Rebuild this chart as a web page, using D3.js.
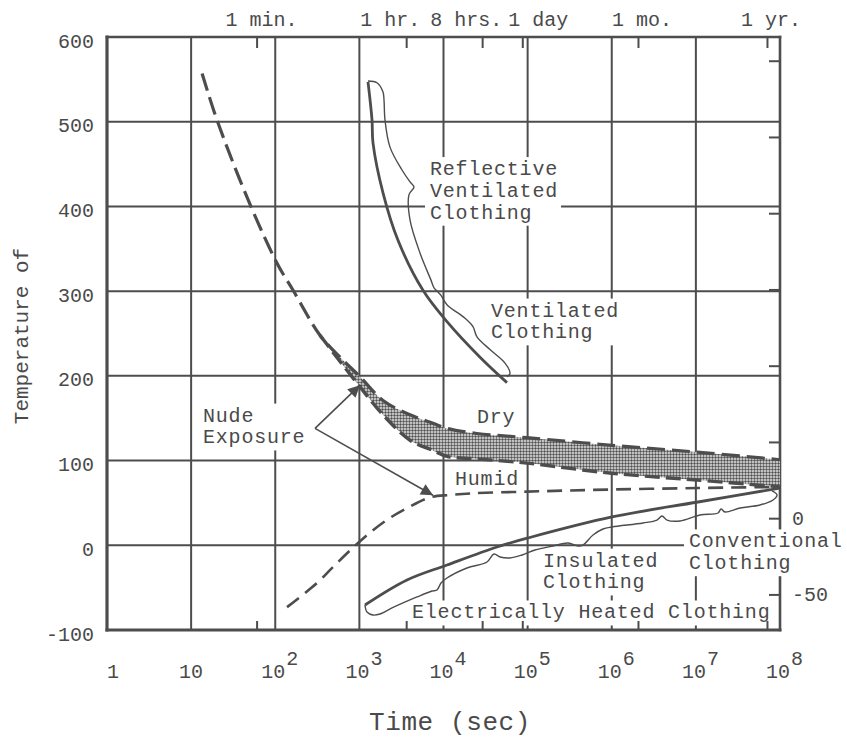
<!DOCTYPE html>
<html>
<head>
  <meta charset="UTF-8">
  <title>Tolerance time vs temperature</title>
  <script src="https://cdn.jsdelivr.net/npm/d3@7"></script>
  <style>
    body { margin: 0; background: #fff; }
    text { font-family: "Liberation Mono", "DejaVu Sans Mono", monospace; fill: #4a4a4a; }
  </style>
</head>
<body>
  <svg width="847" height="738"></svg>

  <script>
    // Nude exposure, hot side: single dashed curve before it splits into the band
    const leadTime = [13.5, 20.3, 47.5, 105, 163, 340];
    const leadTemp = [557, 502, 408, 333, 301, 248];

    // Shaded band, dry (upper) and humid (lower) limits
    const bandTime  = [340, 589, 1017, 1909, 4000, 7500, 11000, 25000, 98300, 1.0e6, 1.03e7, 1e8];
    const bandDry   = [248, 222, 199, 171, 154, 144, 138, 132, 127, 118, 110, 101];
    const bandHumid = [248, 217, 187, 154, 124, 112, 105, 102, 97, 85, 77, 69];

    // Nude exposure, cold side (rising dashed curve)
    const coldTime = [138, 314, 486, 1135, 2113, 3656, 6918, 11940, 22400, 98300, 551000, 1.03e7, 1e8];
    const coldTemp = [-73, -44.5, -25.6, 9, 29.8, 43.7, 56.6, 59.4, 61.4, 63.3, 65.3, 67.6, 68.8];

    // Ventilated clothing (solid) and its brace outline
    const ventTime = [1266, 1413, 1452, 1909, 2878, 5705, 11000, 27160, 56860];
    const ventTemp = [547, 502, 475, 416, 360, 301, 264, 222, 192];
    const ventBraceTime = [1266, 1620, 1909, 1962, 2016, 2312, 3211, 3999, 4461, 3890, 3999, 5256, 7101,
                           7713, 8603, 9340, 11000, 18010, 22420, 25010, 35700, 53830, 61740, 56860];
    const ventBraceTemp = [548, 546, 535, 526, 502, 470, 443, 429, 423, 414, 384, 345, 313,
                           304, 299, 295, 284, 268, 258, 246, 231, 215, 203, 199];

    // Heated / insulated / conventional clothing (solid) and its brace outline
    const heatTime = [1166, 3682, 11000, 43250, 101000, 1.007e6, 1.06e7, 1e8];
    const heatTemp = [-70.5, -41, -23.3, -2, 8.6, 33.4, 51.1, 67.6];
    const heatBraceTime = [1166, 1232, 1452, 1759, 2442, 4842, 7300, 8370, 9340, 11000, 19000, 32900,
                           39840, 46950, 61740, 85740, 122400, 200300, 302000, 396900, 455000, 598500,
                           787000, 1.007e6, 2.352e6, 3.45e6, 3.957e6, 4.54e6, 6.476e6, 1.119e7, 1.832e7,
                           1.99e7, 2.22e7, 3.345e7, 5.785e7, 8.26e7, 9.21e7, 8.03e7];
    const heatBraceTemp = [-70.5, -78.8, -82.3, -81.1, -74, -61, -54, -52.8, -44.5, -38.6, -26.8, -19.7,
                           -10.3, -13.8, -15, -11.5, -5.6, -0.8, 2.7, -0.8, 0.3, 12.1,
                           19.2, 21.6, 26.3, 29.8, 34.6, 29.8, 28.7, 35.8, 38.1,
                           42.8, 39.3, 44, 47.6, 53.5, 59.4, 64.1];

    // Arrow from the "Nude Exposure" label: vertex, then the two tips
    const arrowTime = [297, 1017, 7504];
    const arrowTemp = [138, 189, 59];

    // Axes
    const decades = [1, 10, 1e2, 1e3, 1e4, 1e5, 1e6, 1e7, 1e8];
    const decadeExp = ["", "", "2", "3", "4", "5", "6", "7", "8"];
    const decadeBase = ["1", "10", "10", "10", "10", "10", "10", "10", "10"];
    const tempTicks = [-100, 0, 100, 200, 300, 400, 500, 600];
    const timeMarks = [60, 3600, 28800, 86400, 2.05e6, 7.0e7];
    const timeMarkLabels = ["1 min.", "1 hr.", "8 hrs.", "1 day", "1 mo.", "1 yr."];
    const celsiusTicks = [-50, 0, 50, 100, 150, 200, 250, 300];

    // ---- layout ----
    const pL = 107, pR = 780, pT = 37, pB = 630;
    const ink = "#4d4d4d";

    const svg = d3.select("svg");
    const x = d3.scaleLog().domain([1, 1e8]).range([pL, pR]);
    const y = d3.scaleLinear().domain([-100, 600]).range([pB, pT]);
    const yC = d3.scaleLinear().domain([(-100 - 32) * 5 / 9, (600 - 32) * 5 / 9]).range([pB, pT]);

    const defs = svg.append("defs");
    const pat = defs.append("pattern").attr("id", "stipple")
      .attr("width", 3).attr("height", 3).attr("patternUnits", "userSpaceOnUse");
    pat.append("rect").attr("width", 3).attr("height", 3).attr("fill", "#e6e6e6");
    pat.append("circle").attr("cx", 1.5).attr("cy", 1.5).attr("r", 1.2).attr("fill", "#505050");

    defs.append("marker").attr("id", "arrow")
      .attr("viewBox", "0 0 10 10").attr("refX", 10).attr("refY", 5)
      .attr("markerUnits", "userSpaceOnUse").attr("markerWidth", 16).attr("markerHeight", 12)
      .attr("orient", "auto")
      .append("path").attr("d", "M0,0 L10,5 L0,10 z").attr("fill", ink);

    // gridlines
    const grid = svg.append("g").attr("stroke", ink).attr("stroke-width", 2);
    grid.selectAll(".vx").data(decades.slice(1, -1)).join("line")
      .attr("x1", d => x(d)).attr("x2", d => x(d)).attr("y1", pT).attr("y2", pB);
    grid.selectAll(".hy").data(tempTicks.slice(1, -1)).join("line")
      .attr("x1", pL).attr("x2", pR).attr("y1", d => y(d)).attr("y2", d => y(d));

    // frame
    const frame = svg.append("g").attr("stroke", ink).attr("stroke-linecap", "square");
    frame.append("line").attr("x1", pL).attr("x2", pL).attr("y1", pT).attr("y2", pB).attr("stroke-width", 3.2);
    frame.append("line").attr("x1", pL).attr("x2", pR).attr("y1", pB).attr("y2", pB).attr("stroke-width", 3);
    frame.append("line").attr("x1", pL).attr("x2", pR).attr("y1", pT).attr("y2", pT).attr("stroke-width", 2.6);
    frame.append("line").attr("x1", pR).attr("x2", pR).attr("y1", pT).attr("y2", pB).attr("stroke-width", 2.6);

    // left axis labels
    const yAxis = svg.append("g").attr("transform", `translate(${pL},0)`)
      .call(d3.axisLeft(y).tickValues(tempTicks).tickSize(0).tickPadding(13).tickFormat(d => String(d)))
      .attr("font-family", null).attr("font-size", null);
    yAxis.select(".domain").remove();
    yAxis.selectAll("text").attr("dy", "0.5em").style("font-size", "20px").attr("fill", null);

    // right (Celsius) axis: ticks inward, only 0 and -50 labelled
    const cAxis = svg.append("g").attr("transform", `translate(${pR},0)`)
      .call(d3.axisRight(yC).tickValues(celsiusTicks).tickSize(-11).tickPadding(12)
        .tickFormat(d => (d === 0 || d === -50) ? String(d) : ""))
      .attr("font-family", null).attr("font-size", null);
    cAxis.select(".domain").remove();
    cAxis.selectAll("line").attr("stroke", ink).attr("stroke-width", 2);
    cAxis.selectAll("text").attr("dy", "0.3em").style("font-size", "20px").attr("fill", null);

    // time marks along the top
    const tAxisTop = svg.append("g").attr("transform", `translate(0,${pT})`)
      .call(d3.axisTop(x).tickValues(timeMarks).tickSize(-11).tickFormat(""));
    tAxisTop.select(".domain").remove();
    tAxisTop.selectAll("line").attr("stroke", ink).attr("stroke-width", 2);

    const topShift = [5, -16, -16, 16, 4, 4];
    svg.append("g").selectAll("text").data(timeMarks).join("text")
      .attr("x", (d, i) => x(d) + topShift[i]).attr("y", 26)
      .attr("text-anchor", "middle").style("font-size", "20px")
      .text((d, i) => timeMarkLabels[i]);

    // bottom decade labels with exponents
    const bl = svg.append("g").selectAll("text").data(decades).join("text")
      .attr("x", (d, i) => decadeExp[i] ? x(d) - 14 : x(d))
      .attr("y", 678)
      .attr("text-anchor", (d, i) => (i === 0 || decadeExp[i]) ? "start" : "middle")
      .style("font-size", "20px");
    bl.append("tspan").text((d, i) => decadeBase[i]);
    bl.filter((d, i) => decadeExp[i]).append("tspan").attr("dy", -13).attr("dx", 1)
      .text(d => decadeExp[decades.indexOf(d)]);

    svg.append("text").attr("x", 450).attr("y", 730).attr("text-anchor", "middle")
      .style("font-size", "26px").style("letter-spacing", "0.6px").text("Time (sec)");

    svg.append("text").attr("transform", "translate(28,336) rotate(-90)")
      .attr("text-anchor", "middle").style("font-size", "21px").text("Temperature of");

    // annotation labels (anchored in data units); boxed ones mask the grid
    const notes = [
      { lines: ["Reflective", "Ventilated", "Clothing"], t: 6910, v: 437, box: true },
      { lines: ["Ventilated", "Clothing"], t: 36700, v: 270, box: true },
      { lines: ["Nude", "Exposure"], t: 13.84, v: 146, box: true },
      { lines: ["Dry"], t: 25010, v: 144, box: false },
      { lines: ["Humid"], t: 13700, v: 71, box: false },
      { lines: ["Insulated", "Clothing"], t: 152300, v: -25.2, box: true },
      { lines: ["Conventional", "Clothing"], t: 8.28e6, v: -2.5, box: true },
      { lines: ["Electrically Heated Clothing"], t: 4222, v: -86.4, box: true }
    ];
    const boxLayer = svg.append("g");
    const curveLayer = svg.append("g");
    const textLayer = svg.append("g");

    notes.forEach(n => {
      const t = textLayer.append("text")
        .attr("x", x(n.t)).attr("y", y(n.v))
        .style("font-size", "20px").style("letter-spacing", "0.8px");
      n.lines.forEach((s, i) => t.append("tspan").attr("x", x(n.t)).attr("dy", i ? 21.8 : 0).text(s));
      if (n.box) {
        const b = t.node().getBBox();
        boxLayer.append("rect").attr("x", b.x - 5).attr("y", b.y - 1)
          .attr("width", b.width + 8).attr("height", b.height + 2).attr("fill", "#fff");
      }
    });

    // bottom time ticks drawn above the label boxes
    const tAxisBot = svg.append("g").attr("transform", `translate(0,${pB})`)
      .call(d3.axisBottom(x).tickValues(timeMarks).tickSize(-9).tickFormat(""));
    tAxisBot.select(".domain").remove();
    tAxisBot.selectAll("line").attr("stroke", ink).attr("stroke-width", 2);

    const curve = d3.curveCatmullRom.alpha(0.5);
    const path = (ts, vs) => d3.line().x(i => x(ts[i])).y(i => y(vs[i])).curve(curve)(d3.range(ts.length));

    // shaded band
    curveLayer.append("path")
      .attr("d", d3.area().x(i => x(bandTime[i])).y0(i => y(bandHumid[i])).y1(i => y(bandDry[i]))
        .curve(curve)(d3.range(bandTime.length)))
      .attr("fill", "url(#stipple)");

    const dryTime = leadTime.slice(0, -1).concat(bandTime);
    const dryTemp = leadTemp.slice(0, -1).concat(bandDry);
    curveLayer.append("path").attr("d", path(dryTime, dryTemp))
      .attr("fill", "none").attr("stroke", ink).attr("stroke-width", 3.2).attr("stroke-dasharray", "18,7");
    curveLayer.append("path").attr("d", path(bandTime, bandHumid))
      .attr("fill", "none").attr("stroke", ink).attr("stroke-width", 3.4).attr("stroke-dasharray", "15,6");
    curveLayer.append("path").attr("d", path(coldTime, coldTemp))
      .attr("fill", "none").attr("stroke", ink).attr("stroke-width", 2.6).attr("stroke-dasharray", "15,8");

    curveLayer.append("path").attr("d", path(ventTime, ventTemp))
      .attr("fill", "none").attr("stroke", ink).attr("stroke-width", 2.8);
    curveLayer.append("path").attr("d", path(ventBraceTime, ventBraceTemp))
      .attr("fill", "none").attr("stroke", ink).attr("stroke-width", 1.4);
    curveLayer.append("path").attr("d", path(heatTime, heatTemp))
      .attr("fill", "none").attr("stroke", ink).attr("stroke-width", 2.8);
    curveLayer.append("path").attr("d", path(heatBraceTime, heatBraceTemp))
      .attr("fill", "none").attr("stroke", ink).attr("stroke-width", 1.4);

    // arrows
    [1, 2].forEach(k => {
      curveLayer.append("line")
        .attr("x1", x(arrowTime[0])).attr("y1", y(arrowTemp[0]))
        .attr("x2", x(arrowTime[k])).attr("y2", y(arrowTemp[k]))
        .attr("stroke", ink).attr("stroke-width", 1.6).attr("marker-end", "url(#arrow)");
    });
  </script>
</body>
</html>
